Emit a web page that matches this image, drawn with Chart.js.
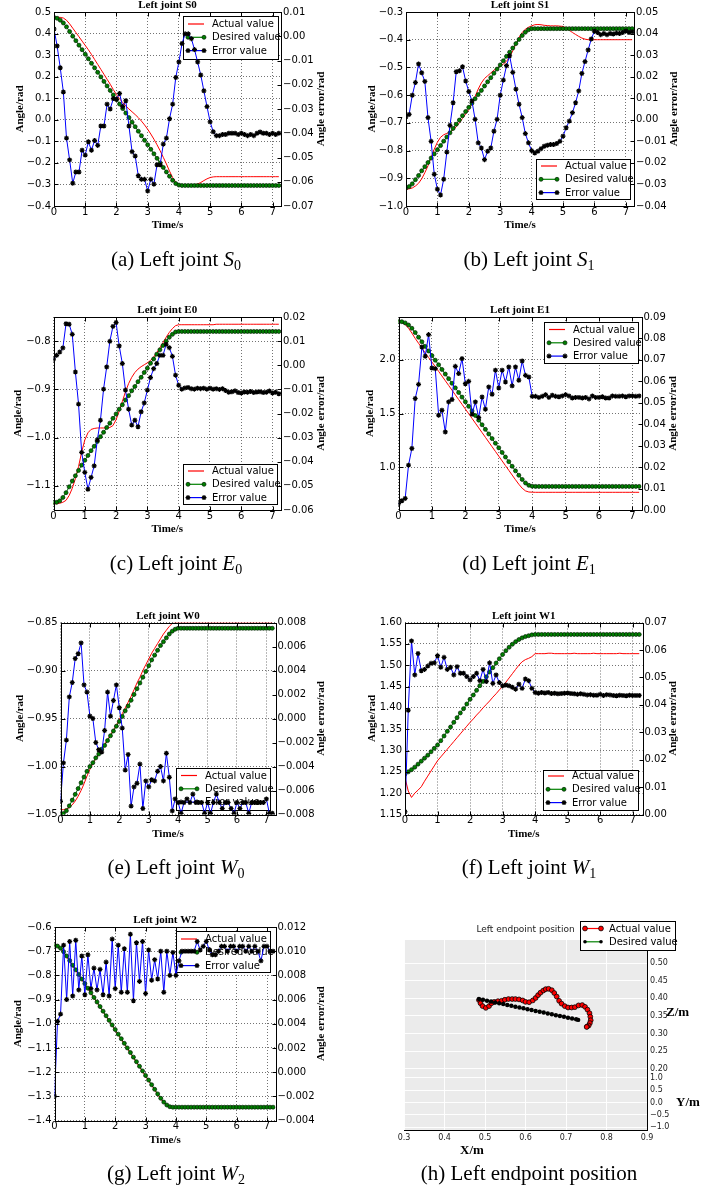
<!DOCTYPE html>
<html>
<head>
<meta charset="utf-8">
<title>Left arm joint tracking</title>
<script src="https://cdn.jsdelivr.net/npm/chart.js@4.4.1/dist/chart.umd.min.js"></script>
<style>
  html, body { margin: 0; padding: 0; background: #fff; }
  #page { position: relative; width: 704px; height: 1188px; overflow: hidden; }
  #page canvas { position: absolute; left: 0; top: 0; }
  .cap { position: absolute; width: 352px; text-align: center; font: 21px/21px "Liberation Serif", "Times New Roman", serif; color: #000; white-space: nowrap; }
  .cap i { font-style: italic; }
  .cap sub { font-size: 14px; line-height: 0; vertical-align: -4px; }
</style>
</head>
<body>
<div id="page">
  <canvas id="cS0" width="704" height="1188"></canvas>
  <canvas id="cS1" width="704" height="1188"></canvas>
  <canvas id="cE0" width="704" height="1188"></canvas>
  <canvas id="cE1" width="704" height="1188"></canvas>
  <canvas id="cW0" width="704" height="1188"></canvas>
  <canvas id="cW1" width="704" height="1188"></canvas>
  <canvas id="cW2" width="704" height="1188"></canvas>
  <canvas id="cEnd" width="704" height="1188"></canvas>
  <div class="cap" style="left:0;top:249px">(a) Left joint <i>S</i><sub>0</sub></div>
  <div class="cap" style="left:353px;top:249px">(b) Left joint <i>S</i><sub>1</sub></div>
  <div class="cap" style="left:0;top:553px">(c) Left joint <i>E</i><sub>0</sub></div>
  <div class="cap" style="left:353px;top:553px">(d) Left joint <i>E</i><sub>1</sub></div>
  <div class="cap" style="left:0;top:857px">(e) Left joint <i>W</i><sub>0</sub></div>
  <div class="cap" style="left:353px;top:857px">(f) Left joint <i>W</i><sub>1</sub></div>
  <div class="cap" style="left:0;top:1163px">(g) Left joint <i>W</i><sub>2</sub></div>
  <div class="cap" style="left:353px;top:1163px">(h) Left endpoint position</div>
</div>
<script>
// sample times (s), shared by every joint plot
const times = [
  0, 0.1, 0.2, 0.3, 0.4, 0.5, 0.6, 0.7, 0.8, 0.9,
  1, 1.1, 1.2, 1.3, 1.4, 1.5, 1.6, 1.7, 1.8, 1.9,
  2, 2.1, 2.2, 2.3, 2.4, 2.5, 2.6, 2.7, 2.8, 2.9,
  3, 3.1, 3.2, 3.3, 3.4, 3.5, 3.6, 3.7, 3.8, 3.9,
  4, 4.1, 4.2, 4.3, 4.4, 4.5, 4.6, 4.7, 4.8, 4.9,
  5, 5.1, 5.2, 5.3, 5.4, 5.5, 5.6, 5.7, 5.8, 5.9,
  6, 6.1, 6.2, 6.3, 6.4, 6.5, 6.6, 6.7, 6.8, 6.9,
  7, 7.1, 7.2
];
const timeTicks = [0, 1, 2, 3, 4, 5, 6, 7];

// joint S0
const s0Actual = [
  0.475, 0.475, 0.475, 0.472, 0.462, 0.445, 0.425, 0.405, 0.385, 0.365,
  0.345, 0.325, 0.303, 0.28, 0.257, 0.234, 0.211, 0.188, 0.165, 0.14,
  0.117, 0.097, 0.08, 0.064, 0.05, 0.037, 0.024, 0.01, -0.006, -0.024,
  -0.044, -0.066, -0.09, -0.116, -0.144, -0.174, -0.205, -0.238, -0.268, -0.29,
  -0.3, -0.302, -0.302, -0.302, -0.302, -0.301, -0.298, -0.291, -0.282, -0.274,
  -0.268, -0.265, -0.264, -0.264, -0.264, -0.264, -0.264, -0.264, -0.264, -0.264,
  -0.264, -0.264, -0.264, -0.264, -0.264, -0.264, -0.264, -0.264, -0.264, -0.264,
  -0.264, -0.264, -0.264
];
const s0Desired = [
  0.475, 0.471, 0.462, 0.449, 0.431, 0.409, 0.388, 0.367, 0.346, 0.325,
  0.304, 0.283, 0.262, 0.241, 0.22, 0.199, 0.178, 0.157, 0.136, 0.115,
  0.094, 0.073, 0.052, 0.031, 0.01, -0.011, -0.032, -0.053, -0.074, -0.095,
  -0.116, -0.137, -0.158, -0.179, -0.2, -0.221, -0.242, -0.262, -0.281, -0.296,
  -0.303, -0.305, -0.305, -0.305, -0.305, -0.305, -0.305, -0.305, -0.305, -0.305,
  -0.305, -0.305, -0.305, -0.305, -0.305, -0.305, -0.305, -0.305, -0.305, -0.305,
  -0.305, -0.305, -0.305, -0.305, -0.305, -0.305, -0.305, -0.305, -0.305, -0.305,
  -0.305, -0.305, -0.305
];
const s0Error = [
  0.003, -0.004, -0.013, -0.023, -0.042, -0.051, -0.0606, -0.056, -0.056, -0.047,
  -0.049, -0.0435, -0.047, -0.043, -0.045, -0.037, -0.037, -0.028, -0.03, -0.0257,
  -0.026, -0.0236, -0.029, -0.0266, -0.037, -0.0476, -0.0494, -0.0575, -0.059, -0.059,
  -0.0638, -0.059, -0.061, -0.053, -0.053, -0.0445, -0.042, -0.034, -0.028, -0.017,
  -0.0106, -0.003, 0.001, 0.001, -0.001, -0.0055, -0.0106, -0.016, -0.0225, -0.029,
  -0.0353, -0.0394, -0.041, -0.041, -0.0405, -0.0405, -0.04, -0.04, -0.04, -0.0405,
  -0.04, -0.0405, -0.041, -0.0405, -0.041, -0.04, -0.0395, -0.04, -0.04, -0.0405,
  -0.04, -0.0405, -0.04
];
const s0AngleTicks = [-0.4, -0.3, -0.2, -0.1, 0, 0.1, 0.2, 0.3, 0.4, 0.5];
const s0ErrorTicks = [-0.07, -0.06, -0.05, -0.04, -0.03, -0.02, -0.01, 0, 0.01];

// joint S1
const s1Actual = [
  -0.94, -0.938, -0.935, -0.928, -0.918, -0.902, -0.88, -0.855, -0.825, -0.795,
  -0.77, -0.752, -0.743, -0.738, -0.733, -0.726, -0.714, -0.7, -0.684, -0.668,
  -0.652, -0.632, -0.605, -0.578, -0.556, -0.54, -0.53, -0.52, -0.51, -0.502,
  -0.495, -0.488, -0.478, -0.462, -0.44, -0.415, -0.392, -0.374, -0.362, -0.355,
  -0.35, -0.346, -0.345, -0.346, -0.348, -0.349, -0.35, -0.35, -0.35, -0.351,
  -0.352, -0.358, -0.366, -0.374, -0.381, -0.388, -0.394, -0.398, -0.4, -0.4,
  -0.4, -0.4, -0.4, -0.4, -0.4, -0.4, -0.4, -0.4, -0.4, -0.4,
  -0.4, -0.4, -0.4
];
const s1Desired = [
  -0.935, -0.93, -0.92, -0.905, -0.89, -0.873, -0.858, -0.843, -0.827, -0.812,
  -0.797, -0.782, -0.766, -0.751, -0.736, -0.72, -0.705, -0.69, -0.674, -0.659,
  -0.644, -0.629, -0.613, -0.598, -0.583, -0.567, -0.552, -0.537, -0.521, -0.506,
  -0.491, -0.476, -0.46, -0.445, -0.43, -0.414, -0.399, -0.385, -0.373, -0.364,
  -0.36, -0.36, -0.36, -0.36, -0.36, -0.36, -0.36, -0.36, -0.36, -0.36,
  -0.36, -0.36, -0.36, -0.36, -0.36, -0.36, -0.36, -0.36, -0.36, -0.36,
  -0.36, -0.36, -0.36, -0.36, -0.36, -0.36, -0.36, -0.36, -0.36, -0.36,
  -0.36, -0.36, -0.36
];
const s1Error = [
  0.0014, 0.0025, 0.0114, 0.0173, 0.0259, 0.0218, 0.0178, 0.001, -0.01, -0.0253,
  -0.0322, -0.0349, -0.0276, -0.015, -0.0026, 0.0079, 0.0223, 0.0227, 0.0246, 0.018,
  0.0131, 0.0087, 0.0002, -0.0107, -0.0131, -0.0185, -0.0146, -0.0131, -0.0053, 0.0002,
  0.0114, 0.0184, 0.0251, 0.0297, 0.022, 0.0142, 0.0072, 0.001, -0.0064, -0.0107,
  -0.0143, -0.0154, -0.0146, -0.0134, -0.0123, -0.0118, -0.0115, -0.0115, -0.011, -0.01,
  -0.0076, -0.0037, -0.0006, 0.0033, 0.0079, 0.0134, 0.0215, 0.027, 0.0324, 0.0375,
  0.0411, 0.0405, 0.0395, 0.04, 0.0395, 0.04, 0.0398, 0.0402, 0.04, 0.0405,
  0.0412, 0.0405, 0.0408
];
const s1AngleTicks = [-1.0, -0.9, -0.8, -0.7, -0.6, -0.5, -0.4, -0.3];
const s1ErrorTicks = [-0.04, -0.03, -0.02, -0.01, 0, 0.01, 0.02, 0.03, 0.04, 0.05];

// joint E0
const e0Actual = [
  -1.137, -1.137, -1.136, -1.134, -1.13, -1.12, -1.105, -1.085, -1.06, -1.03,
  -1.005, -0.99, -0.983, -0.981, -0.98, -0.98, -0.98, -0.98, -0.979, -0.975,
  -0.963, -0.945, -0.925, -0.905, -0.888, -0.875, -0.865, -0.858, -0.853, -0.849,
  -0.845, -0.84, -0.833, -0.824, -0.814, -0.803, -0.792, -0.782, -0.774, -0.768,
  -0.766, -0.766, -0.766, -0.766, -0.766, -0.766, -0.766, -0.766, -0.766, -0.766,
  -0.766, -0.766, -0.765, -0.765, -0.765, -0.765, -0.765, -0.765, -0.765, -0.765,
  -0.765, -0.765, -0.765, -0.765, -0.765, -0.765, -0.765, -0.765, -0.765, -0.765,
  -0.765, -0.765, -0.765
];
const e0Desired = [
  -1.135, -1.134, -1.131, -1.124, -1.114, -1.102, -1.09, -1.079, -1.068, -1.057,
  -1.047, -1.037, -1.027, -1.018, -1.008, -0.998, -0.989, -0.979, -0.97, -0.96,
  -0.951, -0.941, -0.932, -0.922, -0.913, -0.903, -0.894, -0.884, -0.875, -0.865,
  -0.856, -0.846, -0.837, -0.827, -0.818, -0.809, -0.8, -0.792, -0.786, -0.781,
  -0.78, -0.78, -0.78, -0.78, -0.78, -0.78, -0.78, -0.78, -0.78, -0.78,
  -0.78, -0.78, -0.78, -0.78, -0.78, -0.78, -0.78, -0.78, -0.78, -0.78,
  -0.78, -0.78, -0.78, -0.78, -0.78, -0.78, -0.78, -0.78, -0.78, -0.78,
  -0.78, -0.78, -0.78
];
const e0Error = [
  0.0025, 0.0041, 0.0055, 0.0072, 0.0172, 0.017, 0.0128, -0.0028, -0.0161, -0.0361,
  -0.0444, -0.0514, -0.0465, -0.0417, -0.031, -0.0228, -0.0099, -0.0007, 0.0099, 0.0161,
  0.0177, 0.008, 0.0007, -0.0103, -0.0182, -0.0248, -0.0228, -0.0255, -0.0193, -0.0156,
  -0.0103, -0.0051, -0.0014, 0.0007, 0.0041, 0.0041, 0.0087, 0.0073, 0.0037, -0.0041,
  -0.0083, -0.0099, -0.0094, -0.0092, -0.0097, -0.0099, -0.0095, -0.0097, -0.0095, -0.0099,
  -0.0095, -0.0099, -0.0097, -0.01, -0.0097, -0.0105, -0.0112, -0.011, -0.0106, -0.0113,
  -0.0115, -0.0111, -0.0112, -0.0109, -0.0113, -0.0111, -0.011, -0.0113, -0.0112, -0.0107,
  -0.0115, -0.0112, -0.0118
];
const e0AngleTicks = [-1.1, -1.0, -0.9, -0.8];
const e0ErrorTicks = [-0.06, -0.05, -0.04, -0.03, -0.02, -0.01, 0, 0.01, 0.02];

// joint E1
const e1Actual = [
  2.36, 2.35, 2.33, 2.295, 2.25, 2.2, 2.155, 2.11, 2.065, 2.022,
  1.98, 1.937, 1.893, 1.85, 1.806, 1.762, 1.718, 1.674, 1.63, 1.586,
  1.542, 1.498, 1.454, 1.41, 1.366, 1.322, 1.278, 1.234, 1.19, 1.146,
  1.102, 1.058, 1.014, 0.97, 0.926, 0.882, 0.84, 0.803, 0.778, 0.768,
  0.766, 0.765, 0.765, 0.765, 0.765, 0.765, 0.765, 0.765, 0.765, 0.765,
  0.765, 0.765, 0.765, 0.765, 0.765, 0.765, 0.765, 0.765, 0.765, 0.765,
  0.765, 0.765, 0.765, 0.765, 0.765, 0.765, 0.765, 0.765, 0.765, 0.765,
  0.765, 0.765, 0.765
];
const e1Desired = [
  2.36, 2.356, 2.345, 2.325, 2.295, 2.255, 2.212, 2.169, 2.126, 2.083,
  2.04, 1.997, 1.954, 1.911, 1.868, 1.825, 1.782, 1.739, 1.696, 1.653,
  1.61, 1.567, 1.524, 1.481, 1.438, 1.395, 1.352, 1.309, 1.266, 1.223,
  1.18, 1.137, 1.094, 1.051, 1.008, 0.965, 0.924, 0.885, 0.852, 0.83,
  0.822, 0.82, 0.82, 0.82, 0.82, 0.82, 0.82, 0.82, 0.82, 0.82,
  0.82, 0.82, 0.82, 0.82, 0.82, 0.82, 0.82, 0.82, 0.82, 0.82,
  0.82, 0.82, 0.82, 0.82, 0.82, 0.82, 0.82, 0.82, 0.82, 0.82,
  0.82, 0.82, 0.82
];
const e1Error = [
  0.003, 0.0043, 0.0054, 0.0209, 0.0287, 0.052, 0.0586, 0.076, 0.0717, 0.0818,
  0.0662, 0.0659, 0.0442, 0.0465, 0.0364, 0.0504, 0.0515, 0.067, 0.0636, 0.0706,
  0.0589, 0.06, 0.0447, 0.0504, 0.0431, 0.0527, 0.047, 0.0574, 0.054, 0.0652,
  0.0569, 0.0652, 0.0597, 0.0667, 0.0579, 0.0667, 0.0605, 0.0695, 0.0628, 0.062,
  0.053, 0.053, 0.0525, 0.053, 0.0538, 0.0525, 0.0535, 0.053, 0.0528, 0.0532,
  0.0538, 0.0532, 0.0522, 0.0525, 0.0525, 0.0522, 0.0525, 0.0518, 0.0532, 0.0525,
  0.0525, 0.0528, 0.0522, 0.0522, 0.0532, 0.053, 0.053, 0.0532, 0.0528, 0.0532,
  0.0532, 0.053, 0.0532
];
const e1AngleTicks = [1.0, 1.5, 2.0];
const e1ErrorTicks = [0, 0.01, 0.02, 0.03, 0.04, 0.05, 0.06, 0.07, 0.08, 0.09];

// joint W0
const w0Actual = [
  -1.045, -1.045, -1.044, -1.043, -1.04, -1.036, -1.031, -1.025, -1.018, -1.01,
  -1.003, -0.997, -0.992, -0.987, -0.982, -0.977, -0.972, -0.967, -0.962, -0.957,
  -0.951, -0.945, -0.939, -0.933, -0.927, -0.92, -0.913, -0.907, -0.9, -0.894,
  -0.888, -0.882, -0.877, -0.872, -0.867, -0.862, -0.858, -0.854, -0.851, -0.8505,
  -0.8505, -0.8505, -0.8505, -0.8505, -0.8505, -0.8505, -0.8505, -0.8505, -0.8505, -0.8505,
  -0.8505, -0.8505, -0.8505, -0.8505, -0.8505, -0.8505, -0.8505, -0.8505, -0.8505, -0.8505,
  -0.8505, -0.8505, -0.8505, -0.8505, -0.8505, -0.8505, -0.8505, -0.8505, -0.8505, -0.8505,
  -0.8505, -0.8505, -0.8505
];
const w0Desired = [
  -1.05, -1.049, -1.046, -1.041, -1.035, -1.029, -1.023, -1.017, -1.011, -1.005,
  -1.0, -0.996, -0.991, -0.987, -0.982, -0.978, -0.973, -0.968, -0.963, -0.958,
  -0.953, -0.948, -0.942, -0.937, -0.931, -0.925, -0.919, -0.913, -0.907, -0.901,
  -0.895, -0.889, -0.884, -0.879, -0.874, -0.87, -0.866, -0.862, -0.859, -0.857,
  -0.856, -0.856, -0.856, -0.856, -0.856, -0.856, -0.856, -0.856, -0.856, -0.856,
  -0.856, -0.856, -0.856, -0.856, -0.856, -0.856, -0.856, -0.856, -0.856, -0.856,
  -0.856, -0.856, -0.856, -0.856, -0.856, -0.856, -0.856, -0.856, -0.856, -0.856,
  -0.856, -0.856, -0.856
];
const w0Error = [
  -0.0069, -0.0037, -0.0018, 0.0018, 0.003, 0.005, 0.0054, 0.0063, 0.0028, 0.0022,
  0.0002, 0.0, -0.002, -0.0026, -0.0028, -0.001, 0.0022, 0.0002, 0.0015, 0.0028,
  0.0009, -0.0008, -0.0043, -0.003, -0.0073, -0.0057, -0.0054, -0.0038, -0.0075, -0.0052,
  -0.0057, -0.0051, -0.0052, -0.0044, -0.004, -0.0052, -0.0029, -0.0049, -0.0077, -0.0067,
  -0.007, -0.0079, -0.007, -0.0067, -0.007, -0.0063, -0.007, -0.007, -0.007, -0.0079,
  -0.007, -0.0079, -0.007, -0.0063, -0.007, -0.0075, -0.007, -0.007, -0.0075, -0.0079,
  -0.007, -0.0075, -0.007, -0.007, -0.0079, -0.007, -0.007, -0.007, -0.007, -0.007,
  -0.0067, -0.0079, -0.0079
];
const w0AngleTicks = [-1.05, -1.0, -0.95, -0.9, -0.85];
const w0ErrorTicks = [-0.008, -0.006, -0.004, -0.002, 0, 0.002, 0.004, 0.006, 0.008];

// joint W1
const w1Actual = [
  1.236, 1.205, 1.19, 1.2, 1.207, 1.215, 1.228, 1.24, 1.252, 1.264,
  1.276, 1.285, 1.294, 1.303, 1.312, 1.321, 1.33, 1.339, 1.348, 1.357,
  1.366, 1.374, 1.383, 1.391, 1.4, 1.408, 1.416, 1.425, 1.433, 1.442,
  1.45, 1.46, 1.47, 1.48, 1.49, 1.5, 1.508, 1.513, 1.516, 1.52,
  1.527, 1.527, 1.527, 1.527, 1.528, 1.528, 1.527, 1.527, 1.527, 1.527,
  1.527, 1.527, 1.528, 1.527, 1.527, 1.527, 1.527, 1.527, 1.528, 1.527,
  1.527, 1.527, 1.527, 1.527, 1.527, 1.527, 1.528, 1.527, 1.527, 1.527,
  1.527, 1.527, 1.527
];
const w1Desired = [
  1.245, 1.25, 1.255, 1.261, 1.268, 1.275, 1.282, 1.289, 1.297, 1.305,
  1.313, 1.323, 1.334, 1.345, 1.355, 1.366, 1.377, 1.388, 1.398, 1.409,
  1.42, 1.43, 1.441, 1.452, 1.462, 1.473, 1.484, 1.494, 1.505, 1.515,
  1.525, 1.534, 1.542, 1.549, 1.555, 1.56, 1.564, 1.567, 1.569, 1.571,
  1.572, 1.572, 1.572, 1.572, 1.572, 1.572, 1.572, 1.572, 1.572, 1.572,
  1.572, 1.572, 1.572, 1.572, 1.572, 1.572, 1.572, 1.572, 1.572, 1.572,
  1.572, 1.572, 1.572, 1.572, 1.572, 1.572, 1.572, 1.572, 1.572, 1.572,
  1.572, 1.572, 1.572
];
const w1Error = [
  0.001, 0.038, 0.0633, 0.0509, 0.0587, 0.0524, 0.0529, 0.0541, 0.0551, 0.0553,
  0.0579, 0.0537, 0.0573, 0.0529, 0.0537, 0.0509, 0.0539, 0.0515, 0.0515, 0.0503,
  0.0491, 0.0503, 0.0515, 0.0488, 0.0529, 0.0485, 0.0553, 0.0478, 0.0509, 0.0481,
  0.0469, 0.0472, 0.0469, 0.0464, 0.0457, 0.0475, 0.046, 0.0494, 0.0488, 0.046,
  0.0445, 0.0442, 0.0445, 0.0443, 0.0445, 0.0441, 0.0442, 0.044, 0.0441, 0.0442,
  0.0443, 0.0441, 0.044, 0.0438, 0.044, 0.0438, 0.0436, 0.0437, 0.0435, 0.0435,
  0.0438, 0.0434, 0.0437, 0.0436, 0.0434, 0.0433, 0.0435, 0.0434, 0.0433, 0.0435,
  0.0434, 0.0434, 0.0434
];
const w1AngleTicks = [1.15, 1.2, 1.25, 1.3, 1.35, 1.4, 1.45, 1.5, 1.55, 1.6];
const w1ErrorTicks = [0, 0.01, 0.02, 0.03, 0.04, 0.05, 0.06, 0.07];

// joint W2
const w2Actual = [
  -0.675, -0.681, -0.691, -0.705, -0.723, -0.742, -0.761, -0.78, -0.799, -0.818,
  -0.837, -0.856, -0.875, -0.894, -0.913, -0.932, -0.951, -0.97, -0.989, -1.008,
  -1.027, -1.046, -1.065, -1.084, -1.103, -1.122, -1.141, -1.16, -1.179, -1.198,
  -1.217, -1.236, -1.255, -1.274, -1.293, -1.311, -1.327, -1.339, -1.346, -1.348,
  -1.348, -1.348, -1.348, -1.348, -1.348, -1.348, -1.348, -1.348, -1.348, -1.348,
  -1.348, -1.348, -1.348, -1.348, -1.348, -1.348, -1.348, -1.348, -1.348, -1.348,
  -1.348, -1.348, -1.348, -1.348, -1.348, -1.348, -1.348, -1.348, -1.348, -1.348,
  -1.348, -1.348, -1.348
];
const w2Desired = [
  -0.675, -0.679, -0.688, -0.702, -0.72, -0.739, -0.758, -0.777, -0.796, -0.815,
  -0.834, -0.853, -0.872, -0.891, -0.91, -0.929, -0.948, -0.967, -0.986, -1.005,
  -1.024, -1.043, -1.062, -1.081, -1.1, -1.119, -1.138, -1.157, -1.176, -1.195,
  -1.214, -1.233, -1.252, -1.271, -1.29, -1.308, -1.324, -1.336, -1.343, -1.345,
  -1.345, -1.345, -1.345, -1.345, -1.345, -1.345, -1.345, -1.345, -1.345, -1.345,
  -1.345, -1.345, -1.345, -1.345, -1.345, -1.345, -1.345, -1.345, -1.345, -1.345,
  -1.345, -1.345, -1.345, -1.345, -1.345, -1.345, -1.345, -1.345, -1.345, -1.345,
  -1.345, -1.345, -1.345
];
const w2Error = [
  -0.002, 0.0042, 0.0048, 0.0105, 0.006, 0.0108, 0.0063, 0.0109, 0.0068, 0.0096,
  0.0064, 0.0097, 0.0069, 0.0086, 0.0068, 0.0085, 0.0064, 0.0091, 0.0063, 0.011,
  0.0069, 0.0105, 0.0066, 0.0102, 0.0066, 0.0114, 0.0059, 0.0107, 0.0075, 0.0108,
  0.0065, 0.0101, 0.0076, 0.0093, 0.0077, 0.01, 0.0066, 0.01, 0.008, 0.0099,
  0.008, 0.0092, 0.01, 0.01, 0.01, 0.01, 0.01, 0.0108, 0.0101, 0.0104,
  0.0108, 0.0101, 0.0097, 0.0097, 0.01, 0.0104, 0.0104, 0.01, 0.0104, 0.0104,
  0.01, 0.0104, 0.0104, 0.01, 0.0104, 0.01, 0.0104, 0.01, 0.0092, 0.0104,
  0.0104, 0.01, 0.01
];
const w2AngleTicks = [-1.4, -1.3, -1.2, -1.1, -1.0, -0.9, -0.8, -0.7, -0.6];
const w2ErrorTicks = [-0.004, -0.002, 0, 0.002, 0.004, 0.006, 0.008, 0.01, 0.012];

// endpoint position (X/m, Z/m)
const endActualX = [0.485, 0.489, 0.494, 0.502, 0.510, 0.516, 0.523, 0.532, 0.541, 0.549, 0.558, 0.567, 0.575, 0.584, 0.593, 0.600, 0.609, 0.618, 0.625, 0.631, 0.637, 0.644, 0.650, 0.657, 0.665, 0.671, 0.677, 0.683, 0.689, 0.697, 0.705, 0.714, 0.722, 0.731, 0.740, 0.747, 0.753, 0.758, 0.760, 0.761, 0.759, 0.756, 0.752, 0.751];
const endActualZ = [0.395, 0.386, 0.378, 0.373, 0.378, 0.386, 0.390, 0.392, 0.393, 0.396, 0.398, 0.398, 0.398, 0.397, 0.394, 0.390, 0.389, 0.394, 0.401, 0.409, 0.416, 0.422, 0.426, 0.427, 0.423, 0.415, 0.405, 0.393, 0.385, 0.378, 0.374, 0.374, 0.375, 0.380, 0.381, 0.376, 0.368, 0.358, 0.348, 0.338, 0.330, 0.323, 0.320, 0.319];
const endDesiredX = [0.485, 0.495, 0.505, 0.515, 0.525, 0.535, 0.545, 0.555, 0.565, 0.575, 0.585, 0.595, 0.605, 0.615, 0.625, 0.635, 0.645, 0.655, 0.665, 0.675, 0.685, 0.695, 0.705, 0.715, 0.725, 0.73];
const endDesiredZ = [0.398, 0.396, 0.393, 0.391, 0.388, 0.386, 0.384, 0.381, 0.379, 0.376, 0.374, 0.372, 0.369, 0.367, 0.364, 0.362, 0.36, 0.357, 0.355, 0.352, 0.35, 0.348, 0.345, 0.343, 0.341, 0.339];
const endXTicks = [0.3, 0.4, 0.5, 0.6, 0.7, 0.8, 0.9];
const endYTicks = [-1.0, -0.5, 0, 0.5, 1.0];
const endZTicks = [0.2, 0.25, 0.3, 0.35, 0.4, 0.45, 0.5];

const SANS = '"DejaVu Sans", sans-serif';
const SERIF = '"Liberation Serif", "Times New Roman", serif';
const tickFont = { family: SANS, size: 10 };
const labelFont = { family: SERIF, size: 11, weight: 'bold' };
Chart.defaults.color = '#000';

const fmt = d => v => v.toFixed(d).replace('-', '\u2212');
const setTicks = list => s => { s.ticks = list.map(v => ({ value: v })); };

function drawMarker(ctx, kind, x, y, r, fill, edge, ew) {
  ctx.save();
  ctx.fillStyle = fill;
  ctx.strokeStyle = edge;
  ctx.lineWidth = ew;
  ctx.beginPath();
  if (kind === 'circle') {
    ctx.arc(x, y, r, 0, Math.PI * 2);
    ctx.fill();
    if (ew > 0) ctx.stroke();
  } else if (kind === 'star') {
    for (let k = 0; k < 4; k++) {
      const a = k * Math.PI / 4;
      ctx.moveTo(x - r * Math.cos(a), y - r * Math.sin(a));
      ctx.lineTo(x + r * Math.cos(a), y + r * Math.sin(a));
    }
    ctx.stroke();
  }
  ctx.restore();
}

function drawLegend(ctx, lg) {
  ctx.save();
  ctx.fillStyle = '#fff';
  ctx.fillRect(lg.x, lg.y, lg.w, lg.h);
  ctx.strokeStyle = '#000';
  ctx.lineWidth = 1;
  ctx.strokeRect(lg.x + 0.5, lg.y + 0.5, lg.w, lg.h);
  ctx.font = '10px ' + SANS;
  ctx.textBaseline = 'middle';
  lg.items.forEach((it, i) => {
    const y = lg.y + lg.first + i * 13.3;
    const x0 = lg.x + 5, x1 = lg.x + 21;
    ctx.strokeStyle = it.line;
    ctx.lineWidth = 1.2;
    ctx.beginPath();
    ctx.moveTo(x0, y);
    ctx.lineTo(x1, y);
    ctx.stroke();
    if (it.marker) {
      drawMarker(ctx, it.marker, x0, y, it.r, it.fill, it.edge, it.ew);
      drawMarker(ctx, it.marker, x1, y, it.r, it.fill, it.edge, it.ew);
    }
    ctx.fillStyle = '#000';
    ctx.fillText(it.label, lg.x + 29, y + 0.5);
  });
  ctx.restore();
}

// per-chart decorations: legend box, frame with inward ticks, extra texts
function deco(cfg) {
  return {
    id: 'deco',
    beforeDraw(chart) {
      if (!cfg.bg) return;
      const a = chart.chartArea;
      chart.ctx.save();
      chart.ctx.fillStyle = cfg.bg;
      chart.ctx.fillRect(a.left, a.top, a.right - a.left, a.bottom - a.top);
      chart.ctx.restore();
    },
    beforeDatasetDraw(chart, args) {
      if (cfg.legendUnder === args.index) drawLegend(chart.ctx, cfg.legend);
    },
    afterDatasetsDraw(chart) {
      if (cfg.legendUnder === undefined && cfg.legend) drawLegend(chart.ctx, cfg.legend);
    },
    afterDraw(chart) {
      const ctx = chart.ctx, a = chart.chartArea;
      ctx.save();
      if (cfg.frame) {
        ctx.strokeStyle = '#000';
        ctx.lineWidth = 1;
        const l = Math.round(a.left) + 0.5, t = Math.round(a.top) + 0.5;
        const r = Math.round(a.right) + 0.5, b = Math.round(a.bottom) + 0.5;
        ctx.strokeRect(l, t, r - l, b - t);
        const sx = chart.scales.x, sy = chart.scales.y, se = chart.scales.y1;
        ctx.beginPath();
        sx.ticks.forEach(tk => {
          const p = Math.round(sx.getPixelForValue(tk.value)) + 0.5;
          ctx.moveTo(p, b); ctx.lineTo(p, b - 4);
          ctx.moveTo(p, t); ctx.lineTo(p, t + 4);
        });
        sy.ticks.forEach(tk => {
          const p = Math.round(sy.getPixelForValue(tk.value)) + 0.5;
          ctx.moveTo(l, p); ctx.lineTo(l + 4, p);
        });
        se.ticks.forEach(tk => {
          const p = Math.round(se.getPixelForValue(tk.value)) + 0.5;
          ctx.moveTo(r, p); ctx.lineTo(r - 4, p);
        });
        ctx.stroke();
      }
      (cfg.texts || []).forEach(tx => {
        ctx.save();
        ctx.font = tx.font;
        ctx.fillStyle = '#000';
        ctx.textAlign = tx.align || 'center';
        ctx.textBaseline = 'middle';
        ctx.translate(tx.x, tx.y);
        if (tx.rot) ctx.rotate(tx.rot);
        ctx.fillText(tx.text, 0, 0);
        ctx.restore();
      });
      ctx.restore();
    }
  };
}

const jointLegend = [
  { label: 'Actual value', line: '#ff0000' },
  { label: 'Desired value', line: '#008000', marker: 'circle', fill: '#008000', edge: '#002000', r: 2, ew: 0.7 },
  { label: 'Error value', line: '#0000ff', marker: 'star', fill: '#000', edge: '#000', r: 2.5, ew: 1.2 }
];

// plot boxes in page pixels
const panels = [
  { id: 'cS0', title: 'Left joint S0', L: 54, R: 281, T: 12, B: 206, dL: 34, dR: 40, xMax: 7.27,
    aMin: -0.4, aMax: 0.5, aTicks: s0AngleTicks, aDec: 1, eMin: -0.07, eMax: 0.01, eTicks: s0ErrorTicks, eDec: 2,
    actual: s0Actual, desired: s0Desired, error: s0Error, legend: { x: 183, y: 16, w: 95, h: 43, first: 8 } },
  { id: 'cS1', title: 'Left joint S1', L: 406, R: 634, T: 12, B: 206, dL: 34, dR: 40, xMax: 7.26,
    aMin: -1.0, aMax: -0.3, aTicks: s1AngleTicks, aDec: 1, eMin: -0.04, eMax: 0.05, eTicks: s1ErrorTicks, eDec: 2,
    actual: s1Actual, desired: s1Desired, error: s1Error, legend: { x: 536, y: 159, w: 94, h: 40, first: 7 } },
  { id: 'cE0', title: 'Left joint E0', L: 53.5, R: 281, T: 317, B: 510, dL: 35, dR: 40, xMax: 7.27,
    aMin: -1.15, aMax: -0.75, aTicks: e0AngleTicks, aDec: 1, eMin: -0.06, eMax: 0.02, eTicks: e0ErrorTicks, eDec: 2,
    actual: e0Actual, desired: e0Desired, error: e0Error, legend: { x: 183, y: 464, w: 94, h: 40, first: 7 } },
  { id: 'cE1', title: 'Left joint E1', L: 398.5, R: 641.5, T: 317, B: 510, dL: 28, dR: 32, xMax: 7.27,
    aMin: 0.6, aMax: 2.4, aTicks: e1AngleTicks, aDec: 1, eMin: 0, eMax: 0.09, eTicks: e1ErrorTicks, eDec: 2,
    actual: e1Actual, desired: e1Desired, error: e1Error, legend: { x: 544, y: 322, w: 94, h: 41, first: 7.5 } },
  { id: 'cW0', title: 'Left joint W0', L: 60.5, R: 275.5, T: 622.5, B: 814.5, dL: 40, dR: 46, xMax: 7.31,
    aMin: -1.05, aMax: -0.85, aTicks: w0AngleTicks, aDec: 2, eMin: -0.008, eMax: 0.008, eTicks: w0ErrorTicks, eDec: 3,
    actual: w0Actual, desired: w0Desired, error: w0Error, legend: { x: 176, y: 768, w: 94, h: 42, first: 7.5 } },
  { id: 'cW1', title: 'Left joint W1', L: 405, R: 642.5, T: 622.5, B: 814.5, dL: 33, dR: 31, xMax: 7.3,
    aMin: 1.15, aMax: 1.6, aTicks: w1AngleTicks, aDec: 2, eMin: 0, eMax: 0.07, eTicks: w1ErrorTicks, eDec: 2,
    actual: w1Actual, desired: w1Desired, error: w1Error, legend: { x: 543, y: 770, w: 95, h: 40, first: 6 } },
  { id: 'cW2', title: 'Left joint W2', L: 54.5, R: 275.5, T: 927, B: 1120.5, dL: 36, dR: 46, xMax: 7.28,
    aMin: -1.4, aMax: -0.6, aTicks: w2AngleTicks, aDec: 1, eMin: -0.004, eMax: 0.012, eTicks: w2ErrorTicks, eDec: 3,
    actual: w2Actual, desired: w2Desired, error: w2Error, legend: { x: 176, y: 931, w: 94, h: 41, first: 8 } }
];

function jointChart(p) {
  const pts = ys => times.map((t, i) => ({ x: t, y: ys[i] }));
  const wL = p.dL + 6.6, wR = 40, hX = 26;
  const gridLine = { color: 'rgba(0,0,0,0.55)', lineWidth: 1, drawTicks: false };
  return new Chart(document.getElementById(p.id), {
    type: 'line',
    data: {
      datasets: [
        { label: 'Actual value', data: pts(p.actual), yAxisID: 'y', borderColor: '#ff0000', borderWidth: 1,
          pointRadius: 0, tension: 0, order: 3 },
        { label: 'Desired value', data: pts(p.desired), yAxisID: 'y', borderColor: '#008000', borderWidth: 1,
          pointRadius: 2, pointBackgroundColor: '#008000', pointBorderColor: '#002000', pointBorderWidth: 0.7, tension: 0, order: 2 },
        { label: 'Error value', data: pts(p.error), yAxisID: 'y1', borderColor: '#0000ff', borderWidth: 1,
          pointStyle: 'star', pointRadius: 2.5, pointBorderColor: '#000', pointBorderWidth: 1.2, tension: 0, order: 1 }
      ]
    },
    options: {
      responsive: false,
      animation: false,
      events: [],
      layout: { padding: { left: p.L - wL, right: 704 - p.R - wR, top: p.T - 12, bottom: 1188 - p.B - hX } },
      plugins: {
        legend: { display: false },
        tooltip: { enabled: false },
        title: { display: true, text: p.title, fullSize: false, color: '#000',
          font: { family: SERIF, size: 11, weight: 'bold', lineHeight: 1 }, padding: { top: 0, bottom: 1 } }
      },
      scales: {
        x: {
          type: 'linear', min: 0, max: p.xMax,
          afterBuildTicks: setTicks(timeTicks),
          afterFit: s => { s.height = hX; },
          ticks: { font: tickFont, color: '#000', padding: 0, autoSkip: false, maxRotation: 0, callback: v => String(v) },
          grid: gridLine,
          border: { display: false, dash: [1, 2] },
          title: { display: true, text: 'Time/s', font: labelFont, color: '#000', padding: 0 }
        },
        y: {
          type: 'linear', position: 'left', min: p.aMin, max: p.aMax,
          afterBuildTicks: setTicks(p.aTicks),
          afterFit: s => { s.width = wL; },
          ticks: { font: tickFont, color: '#000', padding: 3, autoSkip: false, callback: fmt(p.aDec) },
          grid: gridLine,
          border: { display: false, dash: [1, 2] },
          title: { display: true, text: 'Angle/rad', font: labelFont, color: '#000', padding: 0 }
        },
        y1: {
          type: 'linear', position: 'right', min: p.eMin, max: p.eMax,
          afterBuildTicks: setTicks(p.eTicks),
          afterFit: s => { s.width = wR; },
          ticks: { font: tickFont, color: '#000', padding: 2, autoSkip: false, callback: fmt(p.eDec) },
          grid: { display: false, drawTicks: false },
          border: { display: false }
        }
      }
    },
    plugins: [deco({
      frame: true,
      legendUnder: 2,
      legend: Object.assign({ items: jointLegend }, p.legend),
      texts: [{ text: 'Angle error/rad', x: p.R + p.dR, y: (p.T + p.B) / 2, rot: -Math.PI / 2, font: 'bold 11px ' + SERIF }]
    })]
  });
}

panels.forEach(jointChart);

// endpoint trajectory, X against Z with a Y/m scale stacked under Z
const endPts = (xs, zs) => xs.map((x, i) => ({ x: x, y: zs[i] }));
const paneGrid = { color: 'rgba(255,255,255,0.95)', lineWidth: 1, drawTicks: false };
new Chart(document.getElementById('cEnd'), {
  type: 'scatter',
  data: {
    datasets: [
      { label: 'Desired value', data: endPts(endDesiredX, endDesiredZ), xAxisID: 'x', yAxisID: 'z', showLine: true,
        borderColor: '#008000', borderWidth: 1, pointRadius: 2.2, pointBackgroundColor: '#000', pointBorderColor: '#000',
        pointBorderWidth: 0, order: 1 },
      { label: 'Actual value', data: endPts(endActualX, endActualZ), xAxisID: 'x', yAxisID: 'z', showLine: true,
        borderColor: '#ff0000', borderWidth: 1, pointRadius: 2.4, pointBackgroundColor: '#ff0000', pointBorderColor: '#000',
        pointBorderWidth: 0.8, order: 2 }
    ]
  },
  options: {
    responsive: false,
    animation: false,
    events: [],
    layout: { padding: { left: 404, right: 704 - 647 - 30, top: 925, bottom: 1188 - 1130 - 16 } },
    plugins: {
      legend: { display: false },
      tooltip: { enabled: false },
      title: { display: true, text: 'Left endpoint position', fullSize: false, color: '#222',
        font: { family: SANS, size: 9, weight: 'normal', lineHeight: 1 }, padding: { top: 0, bottom: 6 } }
    },
    scales: {
      x: {
        type: 'linear', position: 'bottom', min: 0.3, max: 0.9,
        afterBuildTicks: setTicks(endXTicks),
        afterFit: s => { s.height = 16; },
        ticks: { font: { family: SANS, size: 8 }, color: '#222', padding: 3, autoSkip: false, maxRotation: 0, callback: fmt(1) },
        grid: paneGrid,
        border: { display: true, color: '#000', width: 1 }
      },
      z: {
        type: 'linear', position: 'right', stack: 'r', stackWeight: 135, min: 0.183, max: 0.5651,
        afterBuildTicks: setTicks(endZTicks),
        afterFit: s => { s.width = 30; },
        ticks: { font: { family: SANS, size: 8 }, color: '#222', padding: 3, autoSkip: false, callback: fmt(2) },
        grid: paneGrid,
        border: { display: true, color: '#000', width: 1 }
      },
      yy: {
        type: 'linear', position: 'right', stack: 'r', stackWeight: 55, min: -1.12, max: 1.12,
        afterBuildTicks: setTicks(endYTicks),
        afterFit: s => { s.width = 30; },
        ticks: { font: { family: SANS, size: 8 }, color: '#222', padding: 3, autoSkip: false, callback: fmt(1) },
        grid: paneGrid,
        border: { display: true, color: '#000', width: 1 }
      }
    }
  },
  plugins: [deco({
    bg: '#ebebeb',
    legend: {
      x: 580, y: 921, w: 95, h: 29, first: 7.5,
      items: [
        { label: 'Actual value', line: '#ff0000', marker: 'circle', fill: '#ff0000', edge: '#000', r: 2.4, ew: 0.8 },
        { label: 'Desired value', line: '#008000', marker: 'circle', fill: '#000', edge: '#000', r: 1.8, ew: 0 }
      ]
    },
    texts: [
      { text: 'Z/m', x: 666, y: 1013, align: 'left', font: 'bold 13px ' + SERIF },
      { text: 'Y/m', x: 676, y: 1103, align: 'left', font: 'bold 13px ' + SERIF },
      { text: 'X/m', x: 472, y: 1151, font: 'bold 13px ' + SERIF }
    ]
  })]
});
</script>
</body>
</html>
